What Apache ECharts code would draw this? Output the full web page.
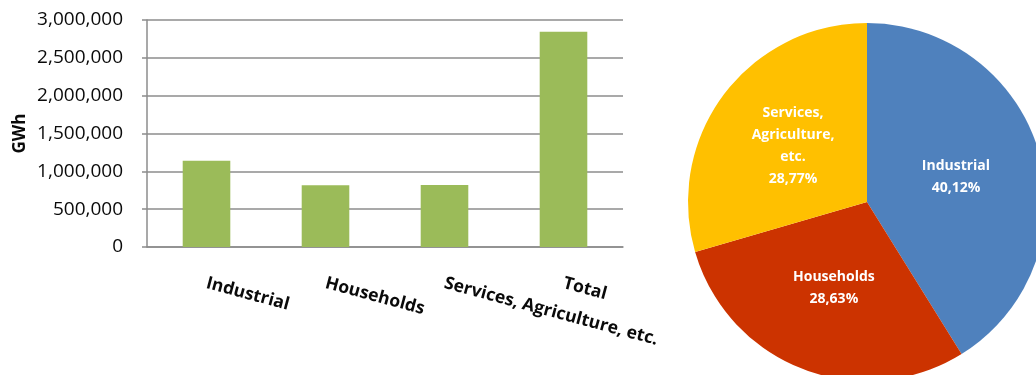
<!DOCTYPE html>
<html>
<head>
<meta charset="utf-8">
<script src="https://cdn.jsdelivr.net/npm/echarts@6/dist/echarts.min.js"></script>
<style>
  html, body { margin: 0; padding: 0; background: #fff; }
  #chart { width: 1036px; height: 375px; }
</style>
</head>
<body>
<div id="chart"></div>
<script>
// Electricity consumption by sector (GWh)
const categories = ['Industrial', 'Households', 'Services, Agriculture, etc.', 'Total'];
const consumption = [1141000, 814600, 818500, 2845000];

// Sector shares shown in the pie
const shareNames = ['Industrial', 'Households', 'Services,\nAgriculture,\netc.'];
const shareValues = [40.12, 28.63, 28.77];
const shareColors = ['#4F81BD', '#CC3300', '#FFC000'];

const yTicks = { min: 0, max: 3000000, interval: 500000 };

const font = '"Open Sans", "Noto Sans", sans-serif';
const chart = echarts.init(document.getElementById('chart'), null, { renderer: 'canvas' });

chart.setOption({
  backgroundColor: '#ffffff',
  animation: false,
  textStyle: { fontFamily: font },
  grid: { left: 147, top: 20, width: 476, height: 227, containLabel: false },
  xAxis: {
    type: 'category',
    data: categories,
    axisLine: { show: true, lineStyle: { color: '#8c8c8c', width: 1.5 } },
    axisTick: { show: false },
    axisLabel: {
      rotate: -15,
      margin: 36,
      interval: 0,
      fontFamily: font,
      fontSize: 17.5,
      fontWeight: 'bold',
      color: '#0a0a0a'
    }
  },
  yAxis: {
    type: 'value',
    min: yTicks.min,
    max: yTicks.max,
    interval: yTicks.interval,
    name: 'GWh',
    nameLocation: 'middle',
    nameGap: 118,
    nameRotate: 90,
    nameTextStyle: { fontFamily: font, fontSize: 17, fontWeight: 'bold', color: '#0a0a0a' },
    axisLine: { show: true, lineStyle: { color: '#8c8c8c', width: 1.5 } },
    axisTick: { show: true, inside: false, length: 5, lineStyle: { color: '#8c8c8c', width: 1.5 } },
    splitLine: { show: true, lineStyle: { color: '#8c8c8c', width: 1.5 } },
    axisLabel: {
      margin: 24,
      fontFamily: font,
      fontSize: 19,
      color: '#0a0a0a',
      formatter: v => v.toLocaleString('en-US')
    }
  },
  series: [
    {
      type: 'bar',
      data: consumption,
      barWidth: '40%',
      itemStyle: { color: '#9BBB59' }
    },
    {
      type: 'pie',
      center: [867, 202],
      radius: 179,
      startAngle: 90,
      clockwise: true,
      data: shareNames.map((n, i) => ({ name: n, value: shareValues[i], itemStyle: { color: shareColors[i] } })),
      label: {
        show: true,
        position: 'inside',
        color: '#fff',
        fontFamily: font,
        fontSize: 14,
        fontWeight: 'bold',
        lineHeight: 22,
        formatter: p => p.name + '\n' + p.value.toFixed(2).replace('.', ',') + '%'
      },
      labelLine: { show: false },
      emphasis: { disabled: true }
    }
  ]
});
</script>
</body>
</html>
